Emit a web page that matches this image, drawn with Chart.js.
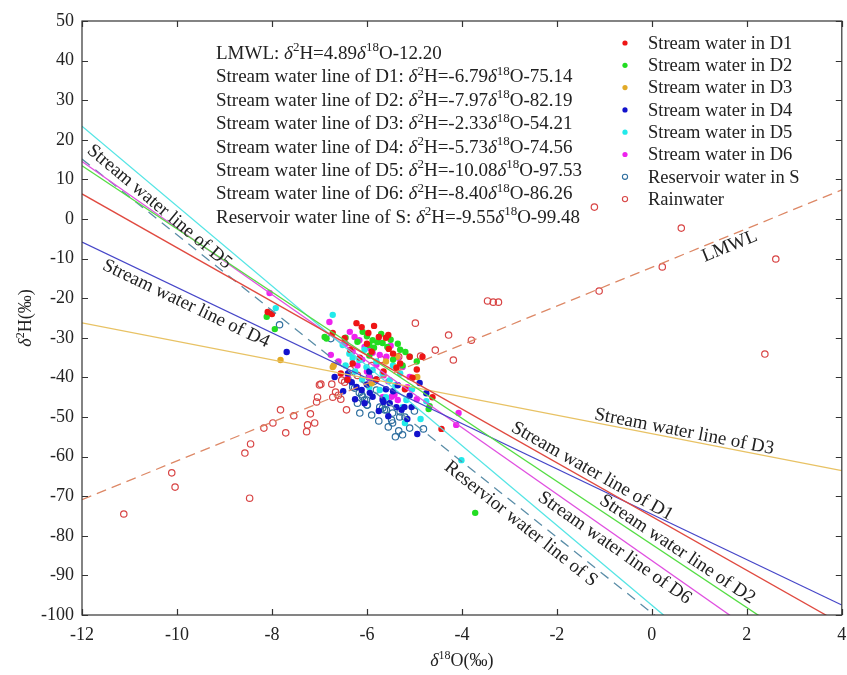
<!DOCTYPE html>
<html>
<head>
<meta charset="utf-8">
<script src="https://cdn.jsdelivr.net/npm/chart.js@4.4.0/dist/chart.umd.min.js"></script>
<style>
  html, body { margin: 0; padding: 0; background: #fff; }
  #wrap { width: 847px; height: 675px; }
</style>
</head>
<body>
<div id="wrap"><canvas id="isoChart" width="847" height="675"></canvas></div>
<script>
// ---- data ----
const xTicks = [-12, -10, -8, -6, -4, -2, 0, 2, 4];
const yTicks = [-100, -90, -80, -70, -60, -50, -40, -30, -20, -10, 0, 10, 20, 30, 40, 50];

// regression lines: d2H = slope * d18O + intercept
const lineNames = ['LMWL', 'Stream water line of D1', 'Stream water line of D2', 'Stream water line of D3',
    'Stream water line of D4', 'Stream water line of D5', 'Stream water line of D6', 'Reservoir water line of S'];
const lineTags = ['LMWL', 'Stream water line of D1', 'Stream water line of D2', 'Stream water line of D3',
    'Stream water line of D4', 'Stream water line of D5', 'Stream water line of D6', 'Reservior water line of S'];
const lineSlopes = [4.89, -6.79, -7.97, -2.33, -5.73, -10.08, -8.40, -9.55];
const lineIntercepts = [-12.20, -75.14, -82.19, -54.21, -74.56, -97.53, -86.26, -99.48];

const seriesNames = ['Stream water in D1', 'Stream water in D2', 'Stream water in D3', 'Stream water in D4',
    'Stream water in D5', 'Stream water in D6', 'Reservoir water in S', 'Rainwater'];

const d1X = [-8.09, -8.0, -6.22, -6.11, -5.97, -6.72, -5.54, -5.10, -4.83, -5.38, -5.04, -6.41, -4.62, -4.43, -6.47, -5.9, -5.75, -6.3, -5.65, -5.2, -6.55,
    -6.0, -5.85, -5.6, -5.45, -6.15, -5.3, -4.95, -5.8, -6.35, -5.55];
const d1Y = [-23.5, -24.0, -26.3, -27.3, -28.8, -28.8, -32.8, -34.8, -34.8, -37.6, -40.1, -40.6, -45.0, -53.0, -30.1, -33.5, -29.8, -36.5, -38.5, -43.0, -39.0,
    -31.5, -27.0, -30.0, -34.0, -35.0, -36.5, -38.0, -40.5, -33.0, -29.3];

const d2X = [-8.11, -7.94, -6.89, -6.85, -6.09, -5.88, -5.78, -5.67, -5.57, -5.19, -5.10, -4.70, -4.68, -3.72, -5.95, -5.45, -5.3, -6.0, -5.85,
    -6.2, -5.7, -5.5, -5.35, -5.95, -5.25, -4.95, -6.45];
const d2Y = [-24.7, -27.8, -29.8, -30.2, -28.5, -30.6, -31.1, -31.3, -32.3, -33.6, -34.8, -48.0, -47.3, -74.2, -31.8, -35.5, -33.0, -29.6, -32.5,
    -31.0, -29.0, -30.5, -31.5, -34.5, -37.0, -36.0, -30.0];

const d3X = [-7.82, -6.72, -6.70, -5.38, -4.94, -5.36, -5.9, -5.6];
const d3Y = [-35.6, -37.4, -37.0, -37.4, -39.9, -34.8, -41.5, -36.0];

const d4X = [-7.69, -6.68, -6.32, -6.22, -6.11, -5.94, -5.88, -5.67, -5.52, -5.38, -5.27, -4.89, -5.06, -4.94, -5.21, -5.65, -6.0, -5.8, -6.4, -5.45, -5.1,
    -6.25, -6.05, -5.75, -5.6, -5.35, -5.15, -4.75, -6.5, -5.95, -5.55];
const d4Y = [-33.6, -39.9, -41.2, -42.4, -43.2, -43.9, -44.9, -45.7, -46.5, -47.5, -48.2, -41.4, -47.5, -54.3, -47.5, -46.2, -41.8, -40.5, -39.0, -43.5, -44.6,
    -45.5, -46.5, -48.5, -43.0, -42.0, -50.5, -44.0, -43.5, -38.5, -49.8];

const d5X = [-7.92, -6.72, -6.30, -6.16, -6.01, -5.88, -5.67, -5.52, -5.25, -5.17, -4.87, -4.01, -6.51, -5.73, -6.37, -5.4, -6.05, -5.3,
    -6.25, -6.1, -5.95, -5.8, -5.6, -5.45, -5.05, -6.45, -5.2, -4.75];
const d5Y = [-22.5, -24.2, -35.1, -35.6, -37.4, -38.1, -38.9, -40.7, -47.5, -45.7, -50.5, -60.9, -31.8, -43.2, -34.0, -42.0, -33.0, -39.0,
    -38.5, -40.5, -42.5, -36.0, -45.0, -37.0, -43.0, -37.0, -51.5, -46.0];

const d6X = [-8.05, -6.79, -6.76, -6.36, -6.26, -6.16, -6.05, -5.94, -5.88, -5.73, -5.59, -5.25, -5.10, -5.48, -5.35, -4.07, -4.12, -5.67, -5.42, -6.2, -6.6, -5.8, -6.0, -5.55,
    -6.45, -6.3, -6.1, -5.95, -5.65, -5.5, -5.35, -5.15, -6.4, -5.75, -4.95];
const d6Y = [-18.7, -26.0, -34.3, -28.5, -29.8, -30.6, -32.3, -32.6, -33.8, -34.3, -34.8, -37.4, -39.9, -44.9, -45.7, -49.0, -52.0, -45.0, -44.4, -37.0, -36.0, -36.8, -38.5, -41.0,
    -31.5, -33.5, -35.5, -40.0, -39.5, -32.0, -35.0, -42.5, -39.5, -31.0, -45.5];

const resX = [-7.84, -6.76, -6.26, -6.11, -6.0, -5.8, -5.67, -5.46, -5.46, -5.33, -5.1, -4.81, -6.30, -6.16, -6.01, -6.09, -5.73, -5.59, -5.31, -6.05, -5.99, -5.63, -5.48, -5.30, -5.85, -5.95,
    -6.4, -6.2, -5.9, -5.75, -5.55, -5.4, -5.2, -5.0, -5.6, -6.15, -5.25];
const resY = [-26.7, -30.2, -42.7, -44.4, -47.0, -43.2, -47.7, -49.0, -51.5, -53.5, -52.8, -53.0, -42.4, -43.9, -45.7, -44.9, -47.5, -48.2, -50.0, -45.7, -47.0, -48.2, -50.8, -48.7, -41.0, -40.0,
    -40.5, -46.5, -49.5, -51.0, -52.5, -55.0, -50.0, -48.5, -45.5, -49.0, -54.5];

const rainX = [-11.12, -10.11, -10.04, -8.57, -8.45, -8.47, -8.17, -7.98, -7.82, -7.71, -7.54, -7.19, -7.25, -7.27, -7.1, -7.06, -7.04, -6.97, -6.74, -6.66, -6.6, -6.43, -6.55, -6.72, -7.0, -6.53, -6.47, -5.33, -4.87, -4.56, -4.18, -4.98, -4.28, -3.80, -3.46, -3.34, -3.23, -1.11, -1.21, 0.22, 0.62, 2.61, 2.38, -6.2, -5.9, -6.35, -5.7];
const rainY = [-74.5, -64.1, -67.7, -59.1, -56.8, -70.5, -52.8, -51.5, -48.2, -54.0, -49.7, -49.2, -52.0, -53.7, -51.5, -46.2, -45.0, -41.7, -41.7, -43.7, -44.5, -48.2, -45.5, -45.0, -41.9, -40.7, -41.2, -34.8, -34.6, -33.1, -35.6, -26.3, -29.3, -30.6, -20.7, -21.0, -21.0, -18.2, 3.0, -12.1, -2.3, -10.1, -34.1, -39.5, -37.0, -38.0, -35.5];

// ---- styling ----
const FONT = "'Liberation Serif', 'Times New Roman', serif";
const TEXT = '#222';
const seriesColors = ['#ee1515', '#22dd22', '#e2aa28', '#1212cc', '#22eaea', '#ee22ee', '#2f6f9f', '#d84545'];
const seriesHollow = [false, false, false, false, false, false, true, true];
const lineColors = ['#dd8866', '#e04a40', '#55dd44', '#e8c264', '#4646c8', '#55e5e5', '#e050e0', '#5b8ea8'];
const lineDashes = [[10, 6], [], [], [], [], [], [], [10, 7]];
// where each line's tag sits: x in data units, offset in px (+ below the line)
const tagPlacement = [
    { at: 1.56, off: 10 },
    { at: -1.36, off: -10 },
    { at: 0.42, off: -10 },
    { at: 0.65, off: -8 },
    { at: -9.71, off: 11 },
    { at: -10.21, off: 12 },
    { at: -0.65, off: 11 },
    { at: -2.6, off: 12 }
];

function zip(xs, ys) {
    return xs.map((x, i) => ({ x: x, y: ys[i] }));
}

const seriesData = [zip(d1X, d1Y), zip(d2X, d2Y), zip(d3X, d3Y), zip(d4X, d4Y),
    zip(d5X, d5Y), zip(d6X, d6Y), zip(resX, resY), zip(rainX, rainY)];

const datasets = [];
// lines first so they draw over the points
lineNames.forEach((name, i) => {
    datasets.push({
        type: 'line',
        label: name,
        data: [xTicks[0], xTicks[xTicks.length - 1]].map(x => ({ x: x, y: lineSlopes[i] * x + lineIntercepts[i] })),
        borderColor: lineColors[i],
        borderWidth: 1.3,
        borderDash: lineDashes[i],
        pointRadius: 0,
        fill: false,
        isLine: true
    });
});
seriesNames.forEach((name, i) => {
    datasets.push({
        type: 'scatter',
        label: name,
        data: seriesData[i],
        pointRadius: 3.2,
        pointBackgroundColor: seriesHollow[i] ? 'rgba(0,0,0,0)' : seriesColors[i],
        pointBorderColor: seriesColors[i],
        pointBorderWidth: seriesHollow[i] ? 1.2 : 0,
        hollow: seriesHollow[i]
    });
});

// rich text: 'δ' italic, '^18' superscript
function richParts(str) {
    const parts = [];
    const re = /(\^\d+)|(δ)|([^\^δ]+)/g;
    let m;
    while ((m = re.exec(str))) {
        if (m[1]) parts.push({ t: m[1].slice(1), sup: true });
        else if (m[2]) parts.push({ t: 'δ', it: true });
        else parts.push({ t: m[3] });
    }
    return parts;
}

function drawRich(ctx, str, x, y, size, align) {
    const parts = richParts(str);
    const fontOf = p => (p.it ? 'italic ' : '') + (p.sup ? Math.round(size * 0.66) : size) + 'px ' + FONT;
    let w = 0;
    parts.forEach(p => { ctx.font = fontOf(p); p.w = ctx.measureText(p.t).width; w += p.w; });
    let cx = align === 'center' ? x - w / 2 : x;
    ctx.textAlign = 'left';
    parts.forEach(p => {
        ctx.font = fontOf(p);
        ctx.fillText(p.t, cx, p.sup ? y - size * 0.4 : y);
        cx += p.w;
    });
}

function fmt(v) {
    return v.toFixed(2);
}

const decorPlugin = {
    id: 'decor',
    afterDraw(chart) {
        const ctx = chart.ctx;
        const a = chart.chartArea;
        const xs = chart.scales.x, ys = chart.scales.y;
        ctx.save();

        // frame + inward ticks
        ctx.strokeStyle = '#333';
        ctx.lineWidth = 1.2;
        ctx.strokeRect(a.left, a.top, a.right - a.left, a.bottom - a.top);
        ctx.beginPath();
        xTicks.forEach(v => {
            const p = Math.round(xs.getPixelForValue(v)) + 0.5;
            ctx.moveTo(p, a.bottom); ctx.lineTo(p, a.bottom - 6);
            ctx.moveTo(p, a.top); ctx.lineTo(p, a.top + 6);
        });
        yTicks.forEach(v => {
            const p = Math.round(ys.getPixelForValue(v)) + 0.5;
            ctx.moveTo(a.left, p); ctx.lineTo(a.left + 6, p);
            ctx.moveTo(a.right, p); ctx.lineTo(a.right - 6, p);
        });
        ctx.stroke();

        ctx.fillStyle = TEXT;
        ctx.textBaseline = 'alphabetic';

        // equations block
        lineNames.forEach((name, i) => {
            const txt = name + ': δ^2H=' + fmt(lineSlopes[i]) + 'δ^18O' + (lineIntercepts[i] < 0 ? '-' : '+') + fmt(Math.abs(lineIntercepts[i]));
            drawRich(ctx, txt, 216, 59 + i * 23.4, 19, 'left');
        });

        // legend
        chart.data.datasets.filter(d => !d.isLine).forEach((d, i) => {
            const y = 43 + i * 22.3;
            ctx.beginPath();
            ctx.arc(625, y, 2.6, 0, Math.PI * 2);
            if (d.hollow) {
                ctx.strokeStyle = d.pointBorderColor;
                ctx.lineWidth = 1.1;
                ctx.stroke();
            } else {
                ctx.fillStyle = d.pointBackgroundColor;
                ctx.fill();
            }
            ctx.fillStyle = TEXT;
            ctx.font = '18.5px ' + FONT;
            ctx.textAlign = 'left';
            ctx.textBaseline = 'middle';
            ctx.fillText(d.label, 648, y + 1);
        });

        // tags along lines
        ctx.textAlign = 'center';
        ctx.textBaseline = 'middle';
        ctx.font = '19px ' + FONT;
        lineTags.forEach((tag, i) => {
            const pl = tagPlacement[i];
            const x0 = pl.at - 0.5, x1 = pl.at + 0.5;
            const px0 = xs.getPixelForValue(x0), px1 = xs.getPixelForValue(x1);
            const py0 = ys.getPixelForValue(lineSlopes[i] * x0 + lineIntercepts[i]);
            const py1 = ys.getPixelForValue(lineSlopes[i] * x1 + lineIntercepts[i]);
            const ang = Math.atan2(py1 - py0, px1 - px0);
            const cx = (px0 + px1) / 2 - Math.sin(ang) * pl.off;
            const cy = (py0 + py1) / 2 + Math.cos(ang) * pl.off;
            ctx.save();
            ctx.translate(cx, cy);
            ctx.rotate(ang);
            ctx.fillStyle = TEXT;
            ctx.fillText(tag, 0, 0);
            ctx.restore();
        });

        // axis titles
        ctx.fillStyle = TEXT;
        ctx.textBaseline = 'alphabetic';
        drawRich(ctx, 'δ^18O(‰)', (a.left + a.right) / 2, 666, 18, 'center');
        ctx.save();
        ctx.translate(31, (a.top + a.bottom) / 2);
        ctx.rotate(-Math.PI / 2);
        drawRich(ctx, 'δ^2H(‰)', 0, 0, 18, 'center');
        ctx.restore();

        ctx.restore();
    }
};

document.addEventListener('DOMContentLoaded', function() {
    const ctx = document.getElementById('isoChart');
    new Chart(ctx, {
        type: 'scatter',
        data: { datasets: datasets },
        options: {
            responsive: false,
            animation: false,
            layout: { padding: { top: 21, right: 4, left: 0, bottom: 0 } },
            plugins: {
                legend: { display: false },
                tooltip: { enabled: false }
            },
            scales: {
                x: {
                    type: 'linear',
                    min: xTicks[0],
                    max: xTicks[xTicks.length - 1],
                    afterBuildTicks: s => { s.ticks = xTicks.map(v => ({ value: v })); },
                    afterFit: s => { s.height = 60; s.paddingLeft = 0; s.paddingRight = 0; },
                    grid: { display: false, drawTicks: false },
                    border: { display: false },
                    ticks: { font: { family: FONT, size: 18 }, color: TEXT, padding: 9, maxRotation: 0, autoSkip: false }
                },
                y: {
                    type: 'linear',
                    min: yTicks[0],
                    max: yTicks[yTicks.length - 1],
                    afterBuildTicks: s => { s.ticks = yTicks.map(v => ({ value: v })); },
                    afterFit: s => { s.width = 82; s.paddingTop = 0; s.paddingBottom = 0; },
                    grid: { display: false, drawTicks: false },
                    border: { display: false },
                    ticks: { font: { family: FONT, size: 18 }, color: TEXT, padding: 8, autoSkip: false }
                }
            }
        },
        plugins: [decorPlugin]
    });
});
</script>
</body>
</html>
